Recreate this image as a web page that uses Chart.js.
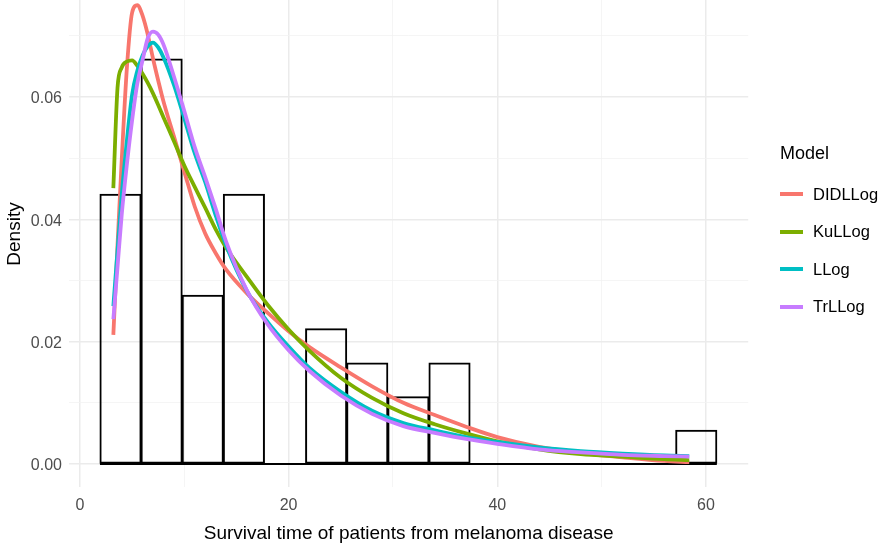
<!DOCTYPE html>
<html>
<head>
<meta charset="utf-8">
<title>Survival time density</title>
<script src="https://cdn.jsdelivr.net/npm/chart.js@4.4.0/dist/chart.umd.min.js"></script>
<style>
  html, body { margin: 0; padding: 0; background: #fff; overflow: hidden; }
  body { width: 882px; height: 552px; position: relative; font-family: "Liberation Sans", Arial, sans-serif; }
  #wrap { position: absolute; left: 0; top: -19px; width: 882px; height: 571px; }
  #legend { position: absolute; left: 780px; top: 141px; color: #000; }
  #legend .title { font-size: 18px; line-height: 24px; }
  #legend .rows { margin-top: 10.5px; }
  #legend .row { display: flex; align-items: center; height: 37.5px; }
  #legend .key { width: 23px; height: 4px; margin-right: 10px; }
  #legend .lab { font-size: 16.5px; }
</style>
</head>
<body>
<div id="wrap"><canvas id="chart" width="882" height="571"></canvas></div>
<div id="legend"></div>
<script>
// Histogram of survival times (density scale)
const binEdges = [1.917, 5.859, 9.800, 13.742, 17.684, 21.626, 25.567, 29.509, 33.451, 37.392, 41.334, 45.276, 49.217, 53.159, 57.101, 61.043];
const binDensity = [0.0441, 0.0662, 0.0276, 0.0441, 0, 0.0221, 0.0165, 0.0110, 0.0165, 0, 0, 0, 0, 0, 0.0055];

// Fitted density curves
const curveX = [3.2, 3.6, 4, 4.5, 5, 5.5, 6, 6.5, 7, 7.5, 8, 9, 10, 11, 12, 13, 14, 16, 18, 20, 22, 25, 28, 31, 34, 37, 40, 44, 48, 52, 56, 58.4];
const didllog = [0.0211, 0.0358, 0.0496, 0.0648, 0.0738, 0.0750, 0.0733, 0.0702, 0.0663, 0.0627, 0.0593, 0.0536, 0.0478, 0.0421, 0.0377, 0.0345, 0.0318, 0.0279, 0.0247, 0.0217, 0.0191, 0.0158, 0.0127, 0.0100, 0.0080, 0.0061, 0.0044, 0.0028, 0.0018, 0.0011, 0.0005, 0.0003];
const kullog = [0.0451, 0.0615, 0.0648, 0.0658, 0.0660, 0.0651, 0.0638, 0.0623, 0.0606, 0.0587, 0.0567, 0.0528, 0.0488, 0.0453, 0.0419, 0.0384, 0.0354, 0.0306, 0.0260, 0.0220, 0.0185, 0.0141, 0.0108, 0.0083, 0.0065, 0.0050, 0.0037, 0.0024, 0.0016, 0.0012, 0.0008, 0.00065];
const llog = [0.0258, 0.0349, 0.0439, 0.0529, 0.0604, 0.0643, 0.0668, 0.0683, 0.0689, 0.0681, 0.0665, 0.0620, 0.0565, 0.0508, 0.0461, 0.0407, 0.0358, 0.0283, 0.0232, 0.0192, 0.0157, 0.0118, 0.0087, 0.0067, 0.0055, 0.0044, 0.0036, 0.0027, 0.0021, 0.0017, 0.0014, 0.0013];
const trllog = [0.0237, 0.0322, 0.0407, 0.0490, 0.0562, 0.0622, 0.0660, 0.0696, 0.0707, 0.0702, 0.0686, 0.0634, 0.0577, 0.0518, 0.0469, 0.0418, 0.0364, 0.0284, 0.0228, 0.0186, 0.0152, 0.0112, 0.0082, 0.0062, 0.0051, 0.0041, 0.0033, 0.0024, 0.0019, 0.0015, 0.0013, 0.0012];

const models = ['DIDLLog', 'KuLLog', 'LLog', 'TrLLog'];
const modelColors = ['#F8766D', '#7CAE00', '#00BFC4', '#C77CFF'];
const modelValues = [didllog, kullog, llog, trllog];

// Axis ticks
const xMajorTicks = [0, 20, 40, 60];
const xMinorTicks = [10, 30, 50];
const yMajorTicks = [0, 0.02, 0.04, 0.06];
const yMinorTicks = [0.01, 0.03, 0.05, 0.07];

const fontFamily = '"Liberation Sans", Arial, sans-serif';
Chart.defaults.font.family = fontFamily;

const binCenters = binEdges.slice(0, -1).map((e, i) => (e + binEdges[i + 1]) / 2);

const datasets = [];
modelValues.forEach((vals, i) => {
    datasets.push({
        type: 'line',
        label: models[i],
        data: curveX.map((x, j) => ({ x: x, y: vals[j] })),
        borderColor: modelColors[i],
        borderWidth: 3.8,
        pointRadius: 0,
        fill: false,
        cubicInterpolationMode: 'monotone',
        order: 4 - i // TrLLog on top, like ggplot
    });
});
datasets.push({
    type: 'line',
    label: 'baseline',
    data: [{ x: binEdges[0], y: 0 }, { x: binEdges[binEdges.length - 1], y: 0 }],
    borderColor: '#000',
    borderWidth: 2,
    pointRadius: 0,
    order: 5
});
datasets.push({
    type: 'bar',
    label: 'hist',
    data: binCenters.map((x, i) => ({ x: x, y: binDensity[i] })),
    backgroundColor: 'rgba(0,0,0,0)',
    borderColor: '#000',
    borderWidth: 1,
    inflateAmount: 0.5,
    borderSkipped: false,
    barPercentage: 1,
    categoryPercentage: 1,
    order: 6
});

new Chart(document.getElementById('chart'), {
    type: 'bar',
    data: { datasets: datasets },
    options: {
        responsive: false,
        animation: false,
        devicePixelRatio: 1,
        layout: { padding: { left: 0, right: 133.8, top: 0, bottom: 0 } },
        plugins: {
            legend: { display: false },
            tooltip: { enabled: false }
        },
        scales: {
            x: {
                type: 'linear',
                min: -1.05,
                max: 64.05,
                offset: false,
                afterBuildTicks: s => {
                    s.ticks = xMajorTicks.concat(xMinorTicks).sort((a, b) => a - b).map(v => ({ value: v }));
                },
                afterFit: s => { s.height = 65; },
                border: { display: false },
                grid: {
                    offset: false,
                    drawTicks: false,
                    color: c => xMajorTicks.includes(c.tick.value) ? '#EBEBEB' : '#F2F2F2',
                    lineWidth: c => xMajorTicks.includes(c.tick.value) ? 1.5 : 0.8
                },
                ticks: {
                    autoSkip: false,
                    maxRotation: 0,
                    padding: 9,
                    color: '#4D4D4D',
                    font: { size: 16 },
                    callback: v => xMajorTicks.includes(v) ? String(v) : ''
                },
                title: {
                    display: true,
                    text: 'Survival time of patients from melanoma disease',
                    color: '#000',
                    font: { size: 19 },
                    padding: { top: 0, bottom: 7.2 }
                }
            },
            y: {
                type: 'linear',
                min: -0.00376,
                max: 0.078963,
                afterBuildTicks: s => {
                    s.ticks = yMajorTicks.concat(yMinorTicks).sort((a, b) => a - b).map(v => ({ value: v }));
                },
                afterFit: s => {
                    s.width = 69;
                    s.paddingTop = 0;
                    s.paddingBottom = 0;
                },
                border: { display: false },
                grid: {
                    drawTicks: false,
                    color: c => yMajorTicks.includes(c.tick.value) ? '#EBEBEB' : '#F2F2F2',
                    lineWidth: c => yMajorTicks.includes(c.tick.value) ? 1.5 : 0.8
                },
                ticks: {
                    autoSkip: false,
                    padding: 7,
                    labelOffset: 2,
                    color: '#4D4D4D',
                    font: { size: 16 },
                    callback: v => yMajorTicks.includes(v) ? v.toFixed(2) : ''
                },
                title: {
                    display: true,
                    text: 'Density',
                    color: '#000',
                    font: { size: 19 },
                    padding: { top: 3.5, bottom: 0 }
                }
            }
        }
    }
});

// Legend, ggplot style
const legendEl = document.getElementById('legend');
let html = '<div class="title">Model</div><div class="rows">';
models.forEach((m, i) => {
    html += '<div class="row"><span class="key" style="background:' + modelColors[i] + '"></span><span class="lab">' + m + '</span></div>';
});
html += '</div>';
legendEl.innerHTML = html;
</script>
</body>
</html>
